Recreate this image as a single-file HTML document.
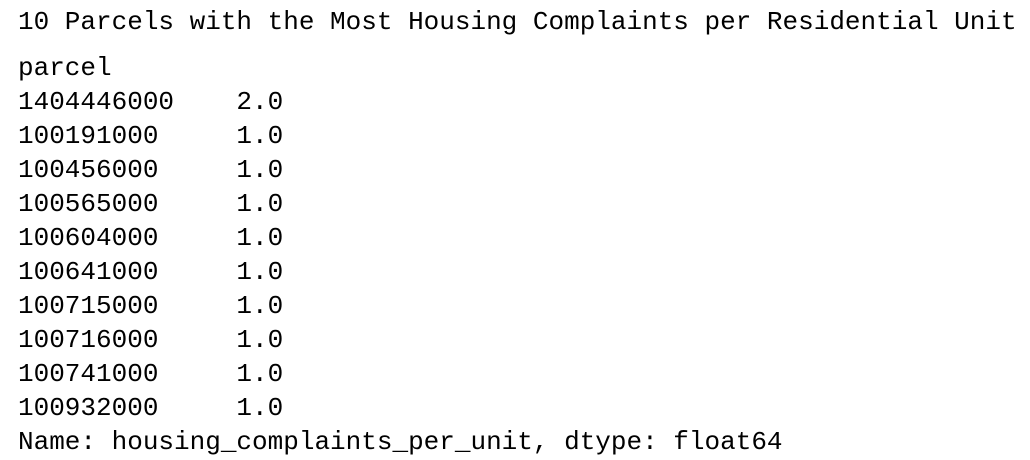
<!DOCTYPE html>
<html><head><meta charset="utf-8"><style>
html,body{margin:0;padding:0;background:#fff;width:1030px;height:460px;overflow:hidden}
.t{position:absolute;left:18px;font-family:"Liberation Mono","DejaVu Sans Mono",monospace;font-size:26px;color:#000;white-space:pre;line-height:34px}
</style></head><body>
<div class="t" style="top:5px">10 Parcels with the Most Housing Complaints per Residential Unit</div>
<div class="t" style="top:51px">parcel
1404446000    2.0
100191000     1.0
100456000     1.0
100565000     1.0
100604000     1.0
100641000     1.0
100715000     1.0
100716000     1.0
100741000     1.0
100932000     1.0
Name: housing_complaints_per_unit, dtype: float64</div>
</body></html>
